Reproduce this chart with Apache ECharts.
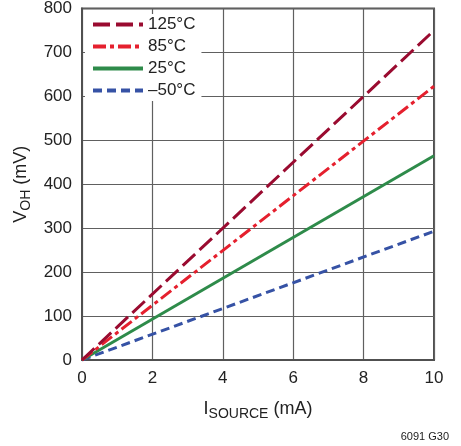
<!DOCTYPE html>
<html><head><meta charset="utf-8">
<script src="https://cdn.jsdelivr.net/npm/echarts@6/dist/echarts.min.js"></script>
<style>html,body{margin:0;padding:0;background:#fff}#c{width:461px;height:446px}</style>
</head><body><div id="c"></div>
<script>
var seriesNames = ['125°C', '85°C', '25°C', '–50°C'];
var currentMA = [0, 10];
var v125 = [0, 750];
var v85 = [0, 623];
var v25 = [0, 465];
var vm50 = [0, 293];
var xTicks = [0, 2, 4, 6, 8, 10];
var yTicks = [0, 100, 200, 300, 400, 500, 600, 700, 800];

var FONT = '"Liberation Sans Narrow", "Liberation Sans", Arial, sans-serif';
function pts(ys){ return currentMA.map(function(x,i){ return [x, ys[i]]; }); }
var colors = ['#9a0b30', '#e5202e', '#2e8b4a', '#3652a5'];
var dashes = [[17,6], [13,4,4,4], 'solid', [9,5]];
var vals = [v125, v85, v25, vm50];

var chart = echarts.init(document.getElementById('c'), null, {renderer:'canvas'});
chart.setOption({
  animation: false,
  backgroundColor: '#fff',
  grid: {left: 82, right: 27, top: 8, bottom: 86, show: true, borderColor: '#505050', borderWidth: 2, containLabel: false},
  legend: {
    left: 85, top: 14, orient: 'vertical', itemGap: 5, itemWidth: 50, itemHeight: 16,
    backgroundColor: '#fff', padding: [2, 6, 2, 6],
    itemStyle: {opacity: 0},
    lineStyle: {width: 4},
    textStyle: {fontFamily: FONT, fontSize: 17, color: '#222'},
    data: seriesNames
  },
  xAxis: {
    type: 'value', min: 0, max: 10, interval: 2,
    name: '{a|I}{b|SOURCE}{a| (mA)}', nameLocation: 'middle', nameGap: 38,
    nameTextStyle: {rich: {a: {fontFamily: FONT, fontSize: 18, color: '#222'}, b: {fontFamily: FONT, fontSize: 14, color: '#222', padding: [9,0,0,0]}}},
    axisLine: {show: true, lineStyle: {color: '#505050', width: 2}},
    axisTick: {show: false},
    axisLabel: {fontFamily: FONT, fontSize: 17, color: '#222', margin: 10},
    splitLine: {show: true, lineStyle: {color: '#606060', width: 1.2}}
  },
  yAxis: {
    type: 'value', min: 0, max: 800, interval: 100,
    name: '{a|V}{b|OH}{a| (mV)}', nameLocation: 'middle', nameGap: 45, nameRotate: 90,
    nameTextStyle: {rich: {a: {fontFamily: FONT, fontSize: 18, color: '#222'}, b: {fontFamily: FONT, fontSize: 14, color: '#222', padding: [9,0,0,0]}}},
    axisLine: {show: true, lineStyle: {color: '#505050', width: 2}},
    axisTick: {show: false},
    axisLabel: {fontFamily: FONT, fontSize: 17, color: '#222', margin: 10},
    splitLine: {show: true, lineStyle: {color: '#606060', width: 1.2}}
  },
  graphic: [{type: 'text', right: 12, bottom: 4, style: {text: '6091 G30', fontFamily: FONT, fontSize: 11, fill: '#222'}}],
  series: seriesNames.map(function(n, i){
    return {name: n, type: 'line', data: pts(vals[i]), showSymbol: false, symbol: 'none', z: 10 - i,
      lineStyle: {color: colors[i], width: 3, type: dashes[i]}, itemStyle: {color: colors[i]}};
  })
});
</script></body></html>
